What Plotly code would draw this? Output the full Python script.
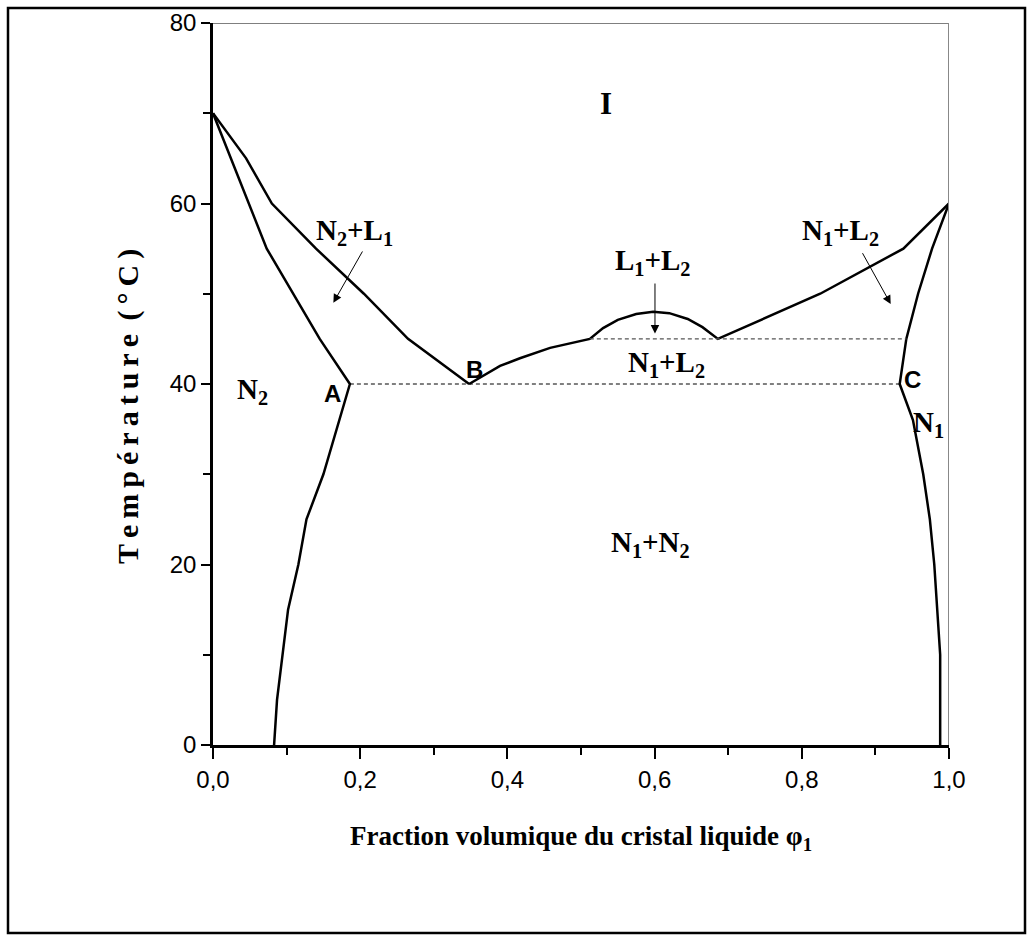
import plotly.graph_objects as go

# Phase boundaries (volume fraction phi_1, temperature in °C)
liq_left_x = [0.0, 0.045, 0.08, 0.14, 0.205, 0.265, 0.348]
liq_left_y = [70, 65, 60, 55, 50, 45, 40]

sol_left_x = [0.0, 0.073, 0.145, 0.186, 0.15, 0.127, 0.116, 0.102, 0.087, 0.083]
sol_left_y = [70, 55, 45, 40, 30, 25, 20, 15, 5, 0]

liq_right_x = [0.348, 0.39, 0.417, 0.458, 0.512, 0.53, 0.55, 0.575, 0.598,
               0.62, 0.645, 0.665, 0.686, 0.825, 0.938, 1.0]
liq_right_y = [40, 42, 42.85, 44, 45, 46.2, 47.1, 47.75, 48,
               47.85, 47.2, 46.3, 45, 50, 55, 60]

sol_right_x = [1.0, 0.977, 0.958, 0.942, 0.933, 0.951, 0.965, 0.974, 0.98, 0.984, 0.988, 0.988]
sol_right_y = [60, 55, 50, 45, 40, 36, 30, 25, 20, 15, 10, 0]

# Tie lines (eutectic at 40 °C, monotectic at 45 °C)
tie40_x = [0.186, 0.933]
tie40_y = [40, 40]
tie45_x = [0.512, 0.942]
tie45_y = [45, 45]

x_ticks = [0.0, 0.2, 0.4, 0.6, 0.8, 1.0]
x_ticktext = ["0,0", "0,2", "0,4", "0,6", "0,8", "1,0"]
x_minor = [0.1, 0.3, 0.5, 0.7, 0.9]
y_ticks = [0, 20, 40, 60, 80]
y_ticktext = ["0", "20", "40", "60", "80"]
y_minor = [10, 30, 50, 70]

W, H = 1033, 940
L, R, T, B = 213, 84, 23, 195
PW, PH = W - L - R, H - T - B

SERIF = "Liberation Serif, Times New Roman, serif"
SANS = "Liberation Sans, Arial, sans-serif"

fig = go.Figure()
line = dict(color="black", width=2.5)
for xs, ys in [(liq_left_x, liq_left_y), (sol_left_x, sol_left_y),
               (liq_right_x, liq_right_y), (sol_right_x, sol_right_y)]:
    fig.add_trace(go.Scatter(x=xs, y=ys, mode="lines", line=line,
                             showlegend=False, hoverinfo="skip"))

fig.add_trace(go.Scatter(x=tie40_x, y=tie40_y, mode="lines",
                         line=dict(color="black", width=1, dash="4px,3px"),
                         showlegend=False, hoverinfo="skip"))
fig.add_trace(go.Scatter(x=tie45_x, y=tie45_y, mode="lines",
                         line=dict(color="#555555", width=1.3, dash="4px,3px"),
                         showlegend=False, hoverinfo="skip"))

def px_x(p):
    return (p - L) / PW

def px_y(p):
    return (H - B - p) / PH

shapes = [
    # top border of the plot box (thin black) and right border (grey)
    dict(type="line", xref="x", yref="y", x0=0, x1=1, y0=80, y1=80,
         line=dict(color="black", width=1.2)),
    dict(type="line", xref="x", yref="y", x0=1, x1=1, y0=0, y1=80,
         line=dict(color="#888888", width=2)),
    # outer frame around the whole figure
    dict(type="rect", xref="paper", yref="paper",
         x0=px_x(8), x1=px_x(1025), y0=px_y(933), y1=px_y(8),
         line=dict(color="black", width=2.5)),
]

def region(text, x, y, size=29):
    return dict(text=text, x=x, y=y, xref="x", yref="y", showarrow=False,
                font=dict(family=SERIF, size=size, color="black", weight="bold"),
                xanchor="center", yanchor="middle")

def point(text, x, y):
    return dict(text=text, x=x, y=y, xref="x", yref="y", showarrow=False,
                font=dict(family=SANS, size=24, color="black", weight="bold"),
                xanchor="center", yanchor="middle")

def arrow(x, y, ax, ay):
    return dict(text="", x=x, y=y, ax=ax, ay=ay, xref="x", yref="y",
                axref="x", ayref="y", showarrow=True, arrowhead=2,
                arrowsize=1.7, arrowwidth=1, arrowcolor="black")

annotations = [
    region("I", 0.534, 71.1, 31),
    region("N<sub>2</sub>+L<sub>1</sub>", 0.192, 56.8),
    region("N<sub>1</sub>+L<sub>2</sub>", 0.853, 56.8),
    region("L<sub>1</sub>+L<sub>2</sub>", 0.598, 53.5),
    region("N<sub>1</sub>+L<sub>2</sub>", 0.616, 42.2),
    region("N<sub>2</sub>", 0.053, 39.2),
    region("N<sub>1</sub>", 0.972, 35.6),
    region("N<sub>1</sub>+N<sub>2</sub>", 0.594, 22.3),
    point("A", 0.162, 39.0),
    point("B", 0.355, 41.6),
    point("C", 0.950, 40.5),
    arrow(0.1635, 49.0, 0.2042, 54.85),
    arrow(0.9208, 48.86, 0.8814, 54.66),
    arrow(0.6005, 45.6, 0.6005, 51.3),
    # axis titles
    dict(text="T\u2009e\u2009m\u2009p\u2009é\u2009r\u2009a\u2009t\u2009u\u2009r\u2009e\u2009 (\u2009°\u2009C\u2009)",
         xref="paper", yref="paper", x=px_x(128), y=px_y(407), textangle=-90,
         showarrow=False, xanchor="center", yanchor="middle",
         font=dict(family=SERIF, size=30, color="black", weight="bold")),
    dict(text="Fraction volumique du cristal liquide φ<sub>1</sub>",
         xref="paper", yref="paper", x=px_x(581), y=px_y(838),
         showarrow=False, xanchor="center", yanchor="middle",
         font=dict(family=SERIF, size=27, color="black", weight="bold")),
]

fig.update_layout(
    width=W, height=H,
    margin=dict(l=L, r=R, t=T, b=B, autoexpand=False),
    paper_bgcolor="white", plot_bgcolor="white",
    shapes=shapes, annotations=annotations,
    xaxis=dict(range=[0, 1], showgrid=False, zeroline=False,
               showline=True, linecolor="black", linewidth=2.5,
               tickvals=x_ticks, ticktext=x_ticktext, ticks="outside",
               ticklen=11, tickwidth=1.5, tickcolor="black",
               tickfont=dict(family=SANS, size=24, color="black"),
               ticklabelstandoff=0,
               minor=dict(tickvals=x_minor, ticks="outside", ticklen=7,
                          tickwidth=1.5, tickcolor="black")),
    yaxis=dict(range=[0, 80], showgrid=False, zeroline=False,
               showline=True, linecolor="black", linewidth=2.5,
               tickvals=y_ticks, ticktext=y_ticktext, ticks="outside",
               ticklen=9, tickwidth=1.5, tickcolor="black",
               tickfont=dict(family=SANS, size=24, color="black"),
               ticklabelstandoff=0,
               minor=dict(tickvals=y_minor, ticks="outside", ticklen=7,
                          tickwidth=1.5, tickcolor="black")),
)

fig.write_html("out.html")
